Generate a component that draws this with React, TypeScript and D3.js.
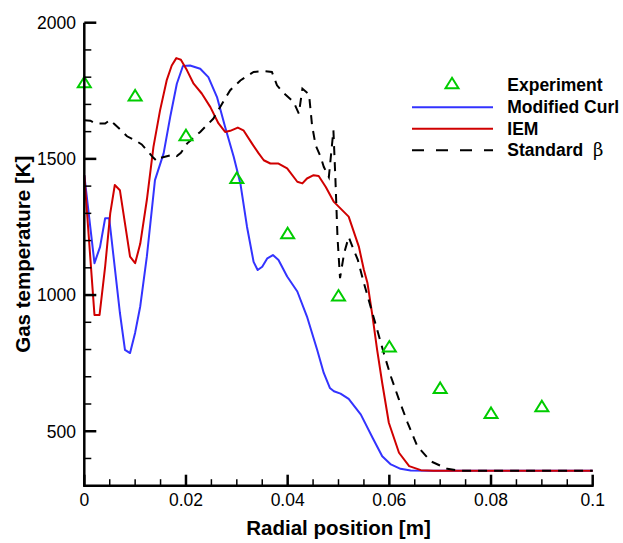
import React from "react";
import * as d3 from "d3";

const expX = [0, 0.01, 0.02, 0.03, 0.04, 0.05, 0.06, 0.07, 0.08, 0.09];
const expT = [1781, 1733, 1587, 1430, 1227, 998, 811, 659, 567, 592];

const curlX = [0, 0.002, 0.0031, 0.0041, 0.0049, 0.007, 0.008, 0.009, 0.010, 0.011, 0.0123, 0.0139, 0.0156, 0.0169, 0.0182, 0.0194, 0.0208, 0.0228, 0.0244, 0.0261, 0.0277, 0.0294, 0.0307, 0.032, 0.0333, 0.0341, 0.035, 0.036, 0.0371, 0.0382, 0.0399, 0.0419, 0.0438, 0.0458, 0.0471, 0.0483, 0.0491, 0.0504, 0.052, 0.0544, 0.0567, 0.0586, 0.0603, 0.0622, 0.0642, 0.068, 0.1];
const curlT = [1440, 1117, 1177, 1282, 1282, 935, 799, 787, 862, 958, 1141, 1422, 1520, 1654, 1776, 1841, 1843, 1831, 1800, 1727, 1617, 1507, 1410, 1251, 1122, 1092, 1104, 1135, 1147, 1129, 1068, 1013, 921, 799, 714, 659, 647, 638, 619, 561, 476, 408, 378, 362, 356, 355, 355];

const iemX = [0, 0.002, 0.003, 0.0041, 0.0051, 0.006, 0.007, 0.008, 0.009, 0.010, 0.011, 0.0123, 0.0136, 0.0149, 0.0162, 0.0172, 0.0181, 0.019, 0.0202, 0.0215, 0.0231, 0.0248, 0.0264, 0.0277, 0.0287, 0.0302, 0.0313, 0.033, 0.0343, 0.0353, 0.0366, 0.0382, 0.0399, 0.0419, 0.0429, 0.0438, 0.0451, 0.0461, 0.0475, 0.0491, 0.052, 0.054, 0.055, 0.0557, 0.0567, 0.0576, 0.0586, 0.0599, 0.0619, 0.0639, 0.0662, 0.0687, 0.1];
const iemT = [1440, 927, 927, 1104, 1300, 1404, 1385, 1263, 1141, 1117, 1188, 1349, 1544, 1678, 1788, 1843, 1870, 1864, 1825, 1776, 1740, 1690, 1630, 1599, 1603, 1615, 1605, 1556, 1520, 1495, 1483, 1483, 1465, 1416, 1410, 1428, 1440, 1437, 1397, 1342, 1288, 1178, 1092, 1044, 921, 799, 677, 531, 421, 372, 357, 355, 355];

const stdX = [0, 0.0012, 0.0021, 0.0041, 0.0051, 0.0058, 0.0074, 0.0084, 0.0103, 0.0113, 0.0136, 0.0143, 0.015, 0.0175, 0.0182, 0.019, 0.0202, 0.0228, 0.0254, 0.0267, 0.0287, 0.0307, 0.0333, 0.0353, 0.0369, 0.0379, 0.0392, 0.0412, 0.0422, 0.0429, 0.0442, 0.0448, 0.0455, 0.0465, 0.0471, 0.0481, 0.049, 0.0494, 0.0498, 0.0503, 0.0511, 0.052, 0.053, 0.0538, 0.055, 0.0563, 0.0576, 0.0589, 0.0603, 0.0619, 0.0636, 0.0655, 0.0681, 0.0714, 0.0741, 0.1];
const stdT = [1642, 1640, 1630, 1630, 1643, 1630, 1602, 1583, 1565, 1553, 1504, 1492, 1504, 1516, 1510, 1522, 1556, 1599, 1648, 1690, 1752, 1788, 1819, 1822, 1819, 1770, 1742, 1708, 1666, 1758, 1737, 1623, 1550, 1507, 1471, 1433, 1605, 1422, 1213, 1062, 1153, 1213, 1166, 1129, 1044, 958, 873, 787, 701, 616, 531, 445, 390, 362, 355, 355];

const xMajor = [0, 0.02, 0.04, 0.06, 0.08, 0.1];
const xTickLabels = ["0", "0.02", "0.04", "0.06", "0.08", "0.1"];
const yMajor = [500, 1000, 1500, 2000];
const yTickLabels = ["500", "1000", "1500", "2000"];

const legendLabels = ["Experiment", "Modified Curl", "IEM", "Standard"];

const W = 623;
const H = 543;
const FONT = "'Liberation Sans', Arial, Helvetica, sans-serif";

export default function App() {
  const x = d3.scaleLinear().domain([0, 0.1]).range([84.3, 592.7]);
  const y = d3.scaleLinear().domain([300, 2000]).range([485.7, 22.7]);

  const line = d3
    .line<[number, number]>()
    .x((d) => x(d[0]))
    .y((d) => y(d[1]));

  const zip = (a: number[], b: number[]) => a.map((v, i) => [v, b[i]] as [number, number]);

  const xMinor = d3.range(0, 21).map((i) => i * 0.005).filter((v) => Math.abs((v / 0.02) - Math.round(v / 0.02)) > 1e-6);
  const yMinor = d3.range(3, 21).map((i) => i * 100).filter((v) => v % 500 !== 0 && v > 300);

  const tri = "M0,-5.5 L6.5,5 L-6.5,5 Z";
  const green = "#00cc00";
  const blue = "#3333ff";
  const red = "#d00000";

  const x0 = x.range()[0];
  const y0 = y.range()[0];

  const legY = [83.3, 107.3, 128.7, 150.3];
  const legTextY = [91, 112.7, 134.7, 156];

  return (
    <svg
      width={W}
      height={H}
      style={{ position: "absolute", left: 0, top: 0, background: "#fff" }}
      fontFamily={FONT}
    >
      <rect x={0} y={0} width={W} height={H} fill="#fff" />
      {/* curves */}
      <path d={line(zip(curlX, curlT)) || ""} fill="none" stroke={blue} strokeWidth={2} strokeLinejoin="round" />
      <path d={line(zip(iemX, iemT)) || ""} fill="none" stroke={red} strokeWidth={2} strokeLinejoin="round" />
      <path d={line(zip(stdX, stdT)) || ""} fill="none" stroke="#000" strokeWidth={2} strokeDasharray="9,7" />
      {/* experiment */}
      {expX.map((v, i) => (
        <path key={i} d={tri} transform={`translate(${x(v)},${y(expT[i])})`} fill="none" stroke={green} strokeWidth={2} />
      ))}
      {/* axes */}
      <line x1={x0} x2={x0} y1={y(2000)} y2={y0 + 1} stroke="#000" strokeWidth={2.5} />
      <line x1={x0 - 1} x2={x(0.1) + 1} y1={y0} y2={y0} stroke="#000" strokeWidth={2.5} />
      {xMajor.map((v, i) => (
        <g key={"xm" + i}>
          <line x1={x(v)} x2={x(v)} y1={y0} y2={y0 - 11} stroke="#000" strokeWidth={2.5} />
          <text x={x(v)} y={505.7} fontSize={17.5} textAnchor="middle" fill="#000">
            {xTickLabels[i]}
          </text>
        </g>
      ))}
      {xMinor.map((v, i) => (
        <line key={"xn" + i} x1={x(v)} x2={x(v)} y1={y0} y2={y0 - 6.5} stroke="#000" strokeWidth={1.5} />
      ))}
      {yMajor.map((v, i) => (
        <g key={"ym" + i}>
          <line x1={x0} x2={x0 + 12} y1={y(v)} y2={y(v)} stroke="#000" strokeWidth={2.5} />
          <text x={76} y={y(v) + 6.4} fontSize={17.5} textAnchor="end" fill="#000">
            {yTickLabels[i]}
          </text>
        </g>
      ))}
      {yMinor.map((v, i) => (
        <line key={"yn" + i} x1={x0} x2={x0 + 7} y1={y(v)} y2={y(v)} stroke="#000" strokeWidth={1.5} />
      ))}
      {/* axis titles */}
      <text x={(x(0) + x(0.1)) / 2} y={535} fontSize={20.5} fontWeight="bold" textAnchor="middle" fill="#000">
        Radial position [m]
      </text>
      <text
        transform={`translate(30,${(y(300) + y(2000)) / 2}) rotate(-90)`}
        fontSize={20.5}
        fontWeight="bold"
        textAnchor="middle"
        fill="#000"
      >
        Gas temperature [K]
      </text>
      {/* legend */}
      <path d={tri} transform={`translate(452,${legY[0]})`} fill="none" stroke={green} strokeWidth={2} />
      <line x1={412} x2={493} y1={legY[1]} y2={legY[1]} stroke={blue} strokeWidth={2} />
      <line x1={412} x2={493} y1={legY[2]} y2={legY[2]} stroke={red} strokeWidth={2} />
      <line x1={412} x2={493} y1={legY[3]} y2={legY[3]} stroke="#000" strokeWidth={2} strokeDasharray="12,12" />
      {legendLabels.map((t, i) => (
        <text key={"lg" + i} x={507.3} y={legTextY[i]} fontSize={17.5} fontWeight="bold" fill="#000">
          {t}
          {i === 3 ? (
            <tspan x={593} fontWeight="normal" fontFamily="'DejaVu Serif', 'Liberation Serif', serif" fontSize={18}>
              β
            </tspan>
          ) : null}
        </text>
      ))}
    </svg>
  );
}
